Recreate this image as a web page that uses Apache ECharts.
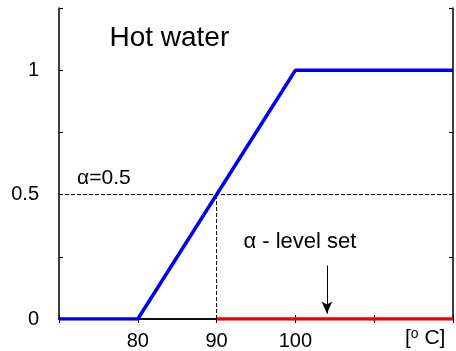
<!DOCTYPE html>
<html><head><meta charset="utf-8">
<script src="https://cdn.jsdelivr.net/npm/echarts@6/dist/echarts.min.js"></script>
<style>html,body{margin:0;padding:0;background:#fff}#c{width:456px;height:351px}</style>
</head><body><div id="c"></div>
<script>
const xTicks = [80, 90, 100];
const yTicks = [0, 0.5, 1];
const membershipX = [70, 80, 100, 120];
const membershipY = [0, 0, 1, 1];
const levelSetX = [90, 120];
const levelSetY = [0, 0];
const alphaCut = 0.5;
const cutX = 90;
const arrowX = 104;

const F = 'Arial, "Liberation Sans", Helvetica, sans-serif';
const S = '"Liberation Serif", "DejaVu Serif", serif';
const chart = echarts.init(document.getElementById('c'), null, {renderer: 'canvas'});
const axisBase = {
  axisLine: {show: true, lineStyle: {color: '#000', width: 1.5}},
  axisTick: {show: true, inside: true, length: 4, lineStyle: {color: '#000', width: 1}},
  splitLine: {show: false}
};
const option = {
  animation: false,
  backgroundColor: '#fff',
  grid: {left: 59, top: 8, right: -2, bottom: 30, containLabel: false},
  xAxis: [
    Object.assign({type: 'value', min: 70, max: 120, interval: 10, position: 'bottom',
      axisLabel: {show: true, color: '#000', fontSize: 20, fontFamily: F, margin: 12,
        formatter: v => xTicks.includes(v) ? String(v) : ''}}, axisBase),
    Object.assign({type: 'value', min: 70, max: 120, interval: 10, position: 'top',
      axisLabel: {show: false}}, axisBase)
  ],
  yAxis: [
    Object.assign({type: 'value', min: 0, max: 1.25, interval: 0.25, position: 'left',
      axisLabel: {show: true, color: '#000', fontSize: 20, fontFamily: F, margin: 20,
        formatter: v => yTicks.includes(v) ? String(v) : ''}}, axisBase),
    Object.assign({type: 'value', min: 0, max: 1.25, interval: 0.25, position: 'right',
      axisLabel: {show: false}}, axisBase)
  ],
  series: [
    {type: 'line', xAxisIndex: 0, yAxisIndex: 0, symbol: 'none', z: 3,
      lineStyle: {color: '#0000f0', width: 3.5},
      data: membershipX.map((x, i) => [x, membershipY[i]])},
    {type: 'line', xAxisIndex: 0, yAxisIndex: 0, symbol: 'none', z: 4,
      lineStyle: {color: '#f00000', width: 3.5},
      data: levelSetX.map((x, i) => [x, levelSetY[i]])},
    {type: 'line', xAxisIndex: 0, yAxisIndex: 0, symbol: 'none', z: 2,
      lineStyle: {color: '#000', width: 1, type: [4, 2]},
      data: [[70, alphaCut], [120, alphaCut]]},
    {type: 'line', xAxisIndex: 0, yAxisIndex: 0, symbol: 'none', z: 2,
      lineStyle: {color: '#000', width: 1, type: [4, 2]},
      data: [[cutX, 0], [cutX, alphaCut]]},
    {type: 'line', xAxisIndex: 0, yAxisIndex: 0, symbol: 'none', z: 5, data: [],
      markLine: {silent: true, symbol: ['none', 'arrow'], symbolSize: [8, 12],
        label: {show: false},
        lineStyle: {color: '#000', width: 1, type: 'solid'},
        data: [[{coord: [arrowX, 0.215]}, {coord: [arrowX, 0.022]}]]}}
  ]
};
chart.setOption(option);

function px(x, y) { return chart.convertToPixel({xAxisIndex: 0, yAxisIndex: 0}, [x, y]); }
const pHot = px(76.4, 1.13);
const pAlpha = px(72.3, 0.565);
const pLevel = px(93.4, 0.31);
const pUnit = px(113.9, 0);
chart.setOption({graphic: [
  {type: 'text', x: pHot[0], y: pHot[1], style: {text: 'Hot water', font: '28px ' + F, fill: '#000', verticalAlign: 'middle'}},
  {type: 'text', x: pAlpha[0], y: pAlpha[1], style: {text: 'α=0.5', font: '21px ' + F, fill: '#000', verticalAlign: 'middle'}},
  {type: 'text', x: pLevel[0], y: pLevel[1], style: {text: 'α - level set', font: '22px ' + F, fill: '#000', verticalAlign: 'middle'}},
  {type: 'text', x: pUnit[0], y: pUnit[1] + 8, style: {
    text: '[{s|o} C]', font: '21px ' + F, fill: '#000', verticalAlign: 'top',
    rich: {s: {fontSize: 14, fontFamily: F, verticalAlign: 'top', padding: [0, 0, 8, 0]}}}}
]});
</script></body></html>
